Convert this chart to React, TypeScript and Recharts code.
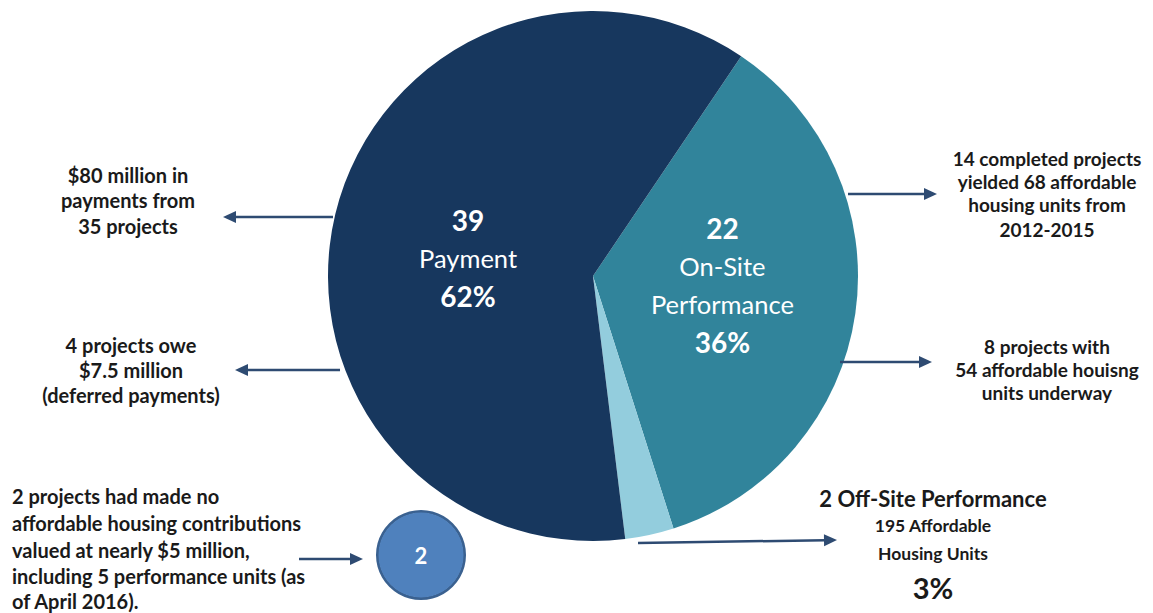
import React from 'react';
import { PieChart, Pie, Cell } from 'recharts';

// slices, clockwise from the top-right boundary
const sliceNames = ['On-Site Performance', 'Off-Site Performance', 'Payment'];
const sliceShares = [36, 3, 62];
const sliceCounts = [22, 2, 39];
const sliceLabelNames = [['On-Site', 'Performance'], [], ['Payment']];
const sliceColors = ['#31849b', '#93cddd', '#17375e'];

const noContribution = [{ name: 'No contribution', value: 2 }];

const pieData = sliceNames.map((name, i) => ({
  name,
  value: sliceShares[i],
  count: sliceCounts[i],
  labelNames: sliceLabelNames[i],
}));

// nudges so the inner labels sit where the original put them
const labelNudge = [
  { dx: -7, dy: -19 },
  { dx: 0, dy: 0 },
  { dx: 9, dy: 6 },
];

const FONT = "Lato, 'Open Sans', sans-serif";
const INK = '#1a1a1a';
const ARROW = '#2e4b72';
const RADIAN = Math.PI / 180;

const renderSliceLabel = (props: any) => {
  const { cx, cy, midAngle, outerRadius, index } = props;
  const d = pieData[index];
  if (!d.labelNames.length) return null;
  const r = outerRadius * 0.52;
  const x = cx + r * Math.cos(-midAngle * RADIAN) + labelNudge[index].dx;
  const y = cy + r * Math.sin(-midAngle * RADIAN) + labelNudge[index].dy;
  const lines = [
    { t: String(d.count), bold: true, size: 28 },
    ...d.labelNames.map((n: string) => ({ t: n, bold: false, size: 25.5 })),
    { t: `${d.value}%`, bold: true, size: 28 },
  ];
  const gap = 38;
  const top = y - ((lines.length - 1) * gap) / 2 + 8;
  return (
    <g>
      {lines.map((l, i) => (
        <text
          key={i}
          x={x}
          y={top + i * gap}
          fill="#ffffff"
          textAnchor="middle"
          dominantBaseline="central"
          fontFamily={FONT}
          fontSize={l.size}
          fontWeight={l.bold ? 700 : 400}
        >
          {l.t}
        </text>
      ))}
    </g>
  );
};

const Arrow = ({ x1, y1, x2, y2 }: { x1: number; y1: number; x2: number; y2: number }) => {
  const a = Math.atan2(y2 - y1, x2 - x1);
  const L = 13;
  const W = 6;
  const bx = x2 - L * Math.cos(a);
  const by = y2 - L * Math.sin(a);
  const px = -Math.sin(a) * W;
  const py = Math.cos(a) * W;
  return (
    <g>
      <line x1={x1} y1={y1} x2={bx + Math.cos(a)} y2={by + Math.sin(a)} stroke={ARROW} strokeWidth={2.5} />
      <polygon points={`${x2},${y2} ${bx + px},${by + py} ${bx - px},${by - py}`} fill={ARROW} />
    </g>
  );
};

type Line = { t: string; y: number; size?: number; bold?: boolean };
const Block = ({ x, anchor, lines, size = 20 }: { x: number; anchor: 'start' | 'middle'; lines: Line[]; size?: number }) => (
  <g>
    {lines.map((l, i) => (
      <text
        key={i}
        x={x}
        y={l.y}
        textAnchor={anchor}
        dominantBaseline="central"
        fontFamily={FONT}
        fontSize={l.size ?? size}
        fontWeight={l.bold === false ? 400 : 700}
        fill={INK}
      >
        {l.t}
      </text>
    ))}
  </g>
);

export default function App() {
  return (
    <div style={{ position: 'absolute', left: 0, top: 0, width: 1153, height: 613, background: '#fff' }}>
      <PieChart width={1153} height={613} margin={{ top: 0, right: 0, bottom: 0, left: 0 }}>
        <Pie
          data={pieData}
          dataKey="value"
          cx={593}
          cy={276}
          outerRadius={265}
          startAngle={56}
          endAngle={-304}
          stroke="none"
          label={renderSliceLabel}
          labelLine={false}
          isAnimationActive={false}
        >
          {pieData.map((d, i) => (
            <Cell key={d.name} fill={sliceColors[i]} />
          ))}
        </Pie>
        {/* the separate bubble for projects with no contribution */}
        <Pie
          data={noContribution}
          dataKey="value"
          cx={421}
          cy={555}
          outerRadius={45}
          innerRadius={42}
          fill="#3a6190"
          stroke="none"
          isAnimationActive={false}
        />
        <Pie
          data={noContribution}
          dataKey="value"
          cx={421}
          cy={555}
          outerRadius={42.5}
          fill="#4f81bd"
          stroke="none"
          label={(p: any) => (
            <text
              x={p.cx}
              y={p.cy}
              fill="#fff"
              textAnchor="middle"
              dominantBaseline="central"
              fontFamily={FONT}
              fontWeight={700}
              fontSize={22}
            >
              {noContribution[0].value}
            </text>
          )}
          labelLine={false}
          isAnimationActive={false}
        />
      </PieChart>
      <svg width={1153} height={613} style={{ position: 'absolute', left: 0, top: 0, pointerEvents: 'none' }}>
        <Arrow x1={333} y1={217} x2={223} y2={217} />
        <Arrow x1={340} y1={370} x2={235} y2={370} />
        <Arrow x1={848} y1={194} x2={937} y2={194} />
        <Arrow x1={840} y1={362} x2={932} y2={362} />
        <Arrow x1={299} y1={559} x2={363} y2={559} />
        <Arrow x1={638} y1={543} x2={837} y2={540} />

        <Block
          x={128}
          anchor="middle"
          lines={[
            { t: '$80 million in', y: 175 },
            { t: 'payments from', y: 200 },
            { t: '35 projects', y: 226 },
          ]}
        />
        <Block
          x={131}
          anchor="middle"
          lines={[
            { t: '4 projects owe', y: 345 },
            { t: '$7.5 million', y: 370 },
            { t: '(deferred payments)', y: 395 },
          ]}
        />
        <Block
          x={1047}
          anchor="middle"
          size={19}
          lines={[
            { t: '14 completed projects', y: 158 },
            { t: 'yielded 68 affordable', y: 181 },
            { t: 'housing units from', y: 204 },
            { t: '2012-2015', y: 229 },
          ]}
        />
        <Block
          x={1047}
          anchor="middle"
          size={19}
          lines={[
            { t: '8 projects with', y: 346 },
            { t: '54 affordable houisng', y: 369 },
            { t: 'units underway', y: 392 },
          ]}
        />
        <Block
          x={12}
          anchor="start"
          lines={[
            { t: '2 projects had made no', y: 496 },
            { t: 'affordable housing contributions', y: 523 },
            { t: 'valued at nearly $5 million,', y: 550 },
            { t: 'including 5 performance units (as', y: 576 },
            { t: 'of April 2016).', y: 601 },
          ]}
        />
        <Block
          x={933}
          anchor="middle"
          lines={[
            { t: `${sliceCounts[1]} Off-Site Performance`, y: 498, size: 22 },
            { t: '195 Affordable', y: 525, size: 17.5 },
            { t: 'Housing Units', y: 553, size: 17.5 },
            { t: `${sliceShares[1]}%`, y: 587, size: 29 },
          ]}
        />
      </svg>
    </div>
  );
}
